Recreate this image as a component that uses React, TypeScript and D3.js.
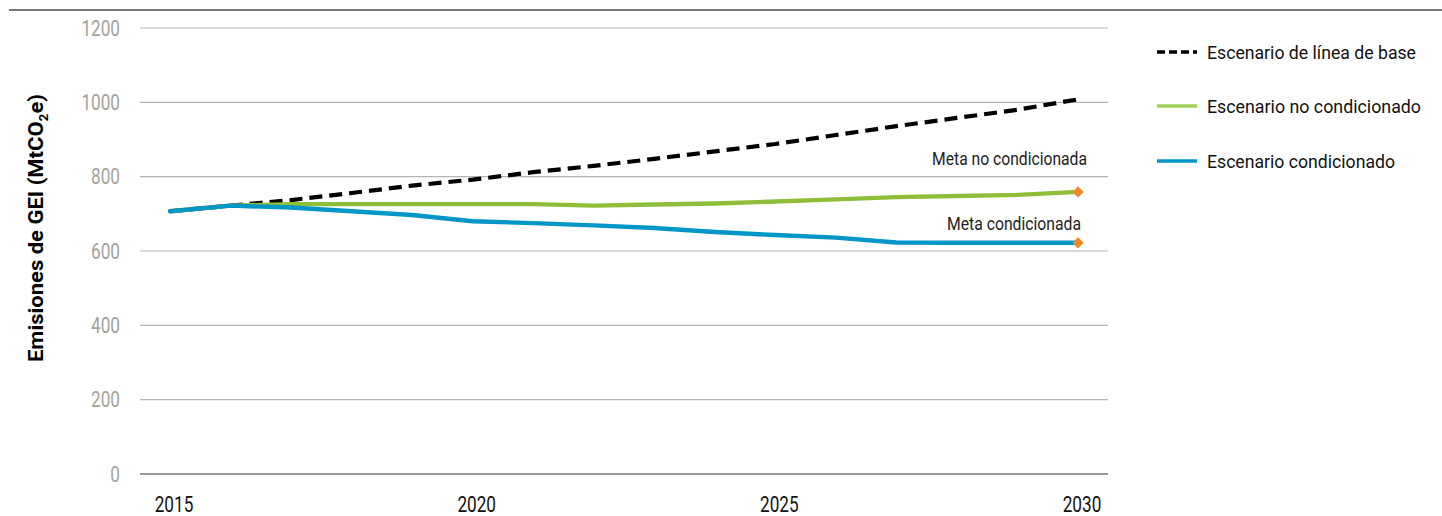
import React from "react";
import * as d3 from "d3";

const years = [2015, 2016, 2017, 2018, 2019, 2020, 2021, 2022, 2023, 2024, 2025, 2026, 2027, 2028, 2029, 2030];
const baseline = [707, 722, 737, 756, 776, 792, 812, 829, 848, 868, 888, 912, 936, 958, 980, 1008];
const unconditional = [707, 722, 726, 726, 726, 726, 726, 722, 725, 728, 733, 739, 745, 748, 751, 759];
const conditional = [707, 722, 717, 707, 697, 680, 675, 669, 662, 651, 643, 636, 623, 622, 622, 622];
const yTicks = [0, 200, 400, 600, 800, 1000, 1200];
const xTicks = [2015, 2020, 2025, 2030];
const legendLabels = ["Escenario de línea de base", "Escenario no condicionado", "Escenario condicionado"];
const targetLabels = ["Meta no condicionada", "Meta condicionada"];

const FONT = "Roboto, 'Noto Sans', sans-serif";

function NText({ x, y, sx = 0.8, anchor = "start", size = 20, fill = "#111", children }: any) {
  return (
    <text transform={`translate(${x},${y}) scale(${sx},1)`} textAnchor={anchor} fontSize={size} fill={fill} dy="0.35em">
      {children}
    </text>
  );
}

export default function App() {
  const W = 1442, H = 516;
  const x = d3.scaleLinear().domain([2015, 2030]).range([170, 1078]);
  const y = d3.scaleLinear().domain([0, 1200]).range([474, 28]);
  const line = d3.line<number>().x((_, i) => x(years[i])).y((d) => y(d));
  const colors = ["#000000", "#8fbf3a", "#0096c8"];
  const legendColors = ["#000000", "#9fd25a", "#0096c8"];
  const diamond = d3.symbol().type(d3.symbolDiamond2).size(80)();
  const legendY = [52, 106, 161];
  const legendW = [209, 214, 188];
  return (
    <svg width={W} height={H} style={{ position: "absolute", left: 0, top: 0 }} fontFamily={FONT}>
      <line x1={9} x2={1442} y1={10} y2={10} stroke="#4a4a4a" strokeWidth={1.6} />
      {yTicks.map((t) => (
        <g key={t}>
          <line x1={140} x2={1108} y1={y(t)} y2={y(t)} stroke={t === 0 ? "#9a9a94" : "#b5b5ab"} strokeWidth={t === 0 ? 2 : 1.2} />
          <NText x={120} y={y(t)} anchor="end" size={22} sx={0.78} fill="#a3a39b">{t}</NText>
        </g>
      ))}
      {xTicks.map((t) => (
        <NText key={t} x={x(t) + 4} y={504} anchor="middle" size={22} sx={0.78} fill="#111">{t}</NText>
      ))}
      <text transform="translate(43,228) rotate(-90)" textAnchor="middle" fontSize={21} fontWeight="bold" fill="#000" textLength={268} lengthAdjust="spacingAndGlyphs">
        Emisiones de GEI (MtCO<tspan dy="5" fontSize={13}>2</tspan><tspan dy="-5">e)</tspan>
      </text>
      <path d={line(baseline) || ""} fill="none" stroke={colors[0]} strokeWidth={4.2} strokeDasharray="13,7" />
      <path d={line(unconditional) || ""} fill="none" stroke={colors[1]} strokeWidth={4.4} strokeLinejoin="round" />
      <path d={line(conditional) || ""} fill="none" stroke={colors[2]} strokeWidth={4.4} strokeLinejoin="round" strokeLinecap="round" />
      {[unconditional, conditional].map((s, i) => (
        <path key={i} d={diamond || ""} transform={`translate(${x(2030)},${y(s[s.length - 1])})`} fill="#f0862a" />
      ))}
      <text x={1087} y={165} textAnchor="end" fontSize={18} fill="#222" textLength={155} lengthAdjust="spacingAndGlyphs">{targetLabels[0]}</text>
      <text x={1081} y={230} textAnchor="end" fontSize={18} fill="#222" textLength={134} lengthAdjust="spacingAndGlyphs">{targetLabels[1]}</text>
      {legendLabels.map((l, i) => (
        <g key={l}>
          <line x1={1157} x2={1197} y1={legendY[i]} y2={legendY[i]} stroke={legendColors[i]} strokeWidth={3.5} strokeDasharray={i === 0 ? "8,4" : undefined} />
          <text x={1207} y={legendY[i]} dy="0.35em" fontSize={19} fill="#111" textLength={legendW[i]} lengthAdjust="spacingAndGlyphs">{l}</text>
        </g>
      ))}
    </svg>
  );
}
